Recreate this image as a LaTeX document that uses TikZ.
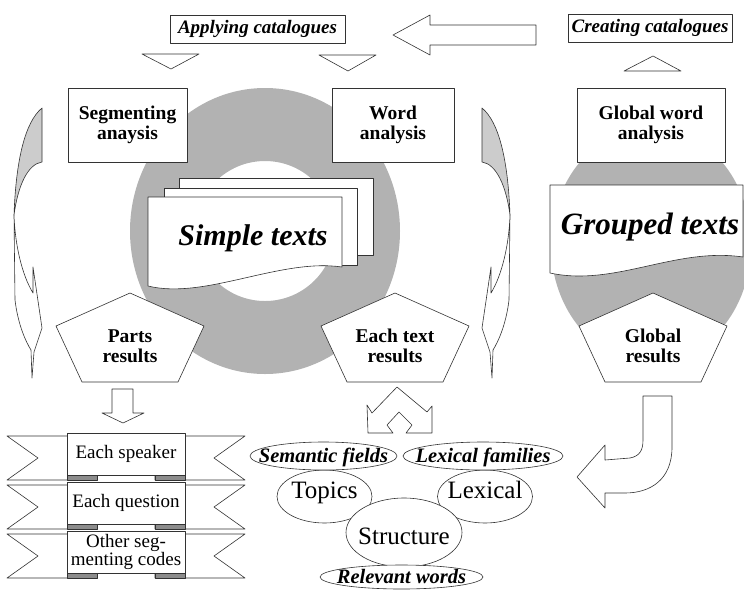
\documentclass[tikz,border=0pt]{standalone}
\usepackage{fontspec}
\setmainfont{Liberation Serif}
\usetikzlibrary{shapes.geometric}
\begin{document}
\begin{tikzpicture}
  [x=1pt,y=-1pt,line join=round,
   outl/.style={draw=black!80,line width=0.6pt,fill=white},
   ringgray/.style={fill=black!30},
   foldgray/.style={draw=black!80,line width=0.6pt,fill=black!45},
   boxtext/.style={align=center,inner sep=0pt,font=\fontsize{19.5}{20}\selectfont\bfseries},
   cattext/.style={align=center,inner sep=0pt,font=\fontsize{19}{18}\selectfont\bfseries\itshape},
   doctext/.style={inner sep=0pt,font=\fontsize{30}{32}\selectfont\bfseries\itshape},
   ribtext/.style={align=center,inner sep=0pt,font=\fontsize{19}{18}\selectfont},
   bigtext/.style={inner sep=0pt,anchor=base,font=\fontsize{25}{27}\selectfont},
   tagtext/.style={inner sep=0pt,anchor=base,font=\fontsize{20.5}{22}\selectfont\bfseries\itshape}]

  \useasboundingbox (0,0) rectangle (744,590);

  % grey donut and grey blob
  \fill[ringgray,even odd rule] (265,231) ellipse [x radius=135,y radius=143]
    (265,231) circle [radius=70];
  \fill[ringgray] (651,245) ellipse [x radius=100,y radius=118];

  % curved arrows left and right
  \foreach \dx/\sx in {0/1,524/-1}{
    \begin{scope}[xshift=\dx,xscale=\sx]
      \filldraw[outl,fill=black!20] (42,108) .. controls (25,122) and (16,160) .. (14,215)
        .. controls (18,185) and (28,164) .. (42,162) -- cycle;
      \filldraw[outl] (14,215) -- (15,300) .. controls (18,325) and (26,342) .. (31,350)
        -- (32,378) -- (34,352) -- (42,328) -- (33,267) -- (33,293)
        .. controls (22,275) and (15,245) .. (14,215) -- cycle;
    \end{scope}
  }

  % catalogues
  \node[outl,cattext,minimum width=175,minimum height=28] (apply) at (257.5,29) {Applying catalogues};
  \node[outl,cattext,minimum width=164,minimum height=28] (create) at (650,28) {Creating catalogues};
  \draw[outl] (393,35) -- (430,15) -- (430,25) -- (536,25) -- (536,45) -- (430,45) -- (430,55) -- cycle;

  \draw[outl] (142,54) -- (199,54) -- (171,69) -- cycle;
  \draw[outl] (319,55) -- (376,55) -- (348,71) -- cycle;
  \draw[outl] (624,71) -- (681,71) -- (653,56) -- cycle;

  % analysis boxes
  \node[outl,boxtext,minimum width=119,minimum height=74] (seg) at (127.5,125) {Segmenting\\anaysis};
  \node[outl,boxtext,minimum width=122,minimum height=74] (word) at (393,125) {Word\\analysis};
  \node[outl,boxtext,minimum width=148,minimum height=74] (global) at (651,125) {Global word\\analysis};

  % texts
  \draw[outl] (179,178) rectangle (373,255);
  \draw[outl] (164,188) rectangle (357,265);
  \draw[outl] (148,197) -- (342,197) -- (342,267) .. controls (280,258) and (205,300) .. (148,286) -- cycle;
  \node[doctext] (simple) at (253,238) {Simple texts};
  \draw[outl] (550,185) -- (743,185) -- (743,257) .. controls (675,247) and (615,287) .. (550,273) -- cycle;
  \node[doctext,font=\fontsize{31}{33}\selectfont\bfseries\itshape] (grouped) at (650,227) {Grouped texts};

  % results
  \foreach \cx/\nm/\txt in {130/parts/Parts\\results,395/each/Each text\\results,653/globres/Global\\results}{
    \draw[outl] (\cx,293) -- ({\cx+74},326) -- ({\cx+48},382) -- ({\cx-48},382) -- ({\cx-74},326) -- cycle;
    \node[boxtext] (\nm) at (\cx,346) {\txt};
  }

  % segmenting codes
  \draw[outl] (112,389) -- (133,389) -- (133,413) -- (144,413) -- (123,423) -- (102,413) -- (112,413) -- cycle;
  \foreach \nm/\bt/\txt in {speaker/432/Each speaker,question/481/Each question,other/530/{Other seg-\\menting codes}}{
    \pgfmathsetmacro\wt{\bt+4}
    \pgfmathsetmacro\wb{\bt+48}
    \pgfmathsetmacro\wm{\bt+26}
    \pgfmathsetmacro\bb{\bt+42}
    \draw[outl] (7,\wt) -- (97,\wt) -- (97,\wb) -- (7,\wb) -- (38,\wm) -- cycle;
    \draw[outl] (245,\wt) -- (155,\wt) -- (155,\wb) -- (245,\wb) -- (214,\wm) -- cycle;
    \draw[foldgray] (67,\bb) rectangle (97,\wb);
    \draw[foldgray] (155,\bb) rectangle (185,\wb);
    \node[outl,ribtext,minimum width=118,minimum height=42] (\nm) at (126,{\bt+22}) {\txt};
  }

  % word level results
  \draw[outl] (397,387) -- (372,413) -- (367,405) -- (368,433) -- (393,433) -- (387,425) -- (399,412)
    -- (412,425) -- (406,433) -- (432,433) -- (432,406) -- (427,412) -- cycle;
  \filldraw[outl] (324.5,496.5) ellipse [x radius=47.5,y radius=26.5];
  \node[bigtext] (topics) at (324.5,498) {Topics};
  \filldraw[outl] (485,496.5) ellipse [x radius=47.5,y radius=26.5];
  \node[bigtext] (lexical) at (485,498) {Lexical};
  \filldraw[outl] (404,532.5) ellipse [x radius=58,y radius=34.5];
  \node[bigtext] (structure) at (404,544) {Structure};
  \filldraw[outl] (323.5,456) ellipse [x radius=73.5,y radius=14];
  \node[tagtext] (semantic) at (323.5,462) {Semantic fields};
  \filldraw[outl] (483,456) ellipse [x radius=80,y radius=14];
  \node[tagtext] (families) at (483,462) {Lexical families};
  \filldraw[outl] (401.5,577) ellipse [x radius=81.5,y radius=12];
  \node[tagtext] (relevant) at (401.5,583) {Relevant words};

  % global to lexical
  \draw[outl] (643,396) -- (672,396) -- (672,447) .. controls (672,480) and (650,493) .. (625,493)
    -- (605,493) -- (605,508) -- (577,477) -- (605,445) -- (605,460) -- (630,458)
    .. controls (640,456) and (643,450) .. (643,440) -- cycle;
\end{tikzpicture}
\end{document}
